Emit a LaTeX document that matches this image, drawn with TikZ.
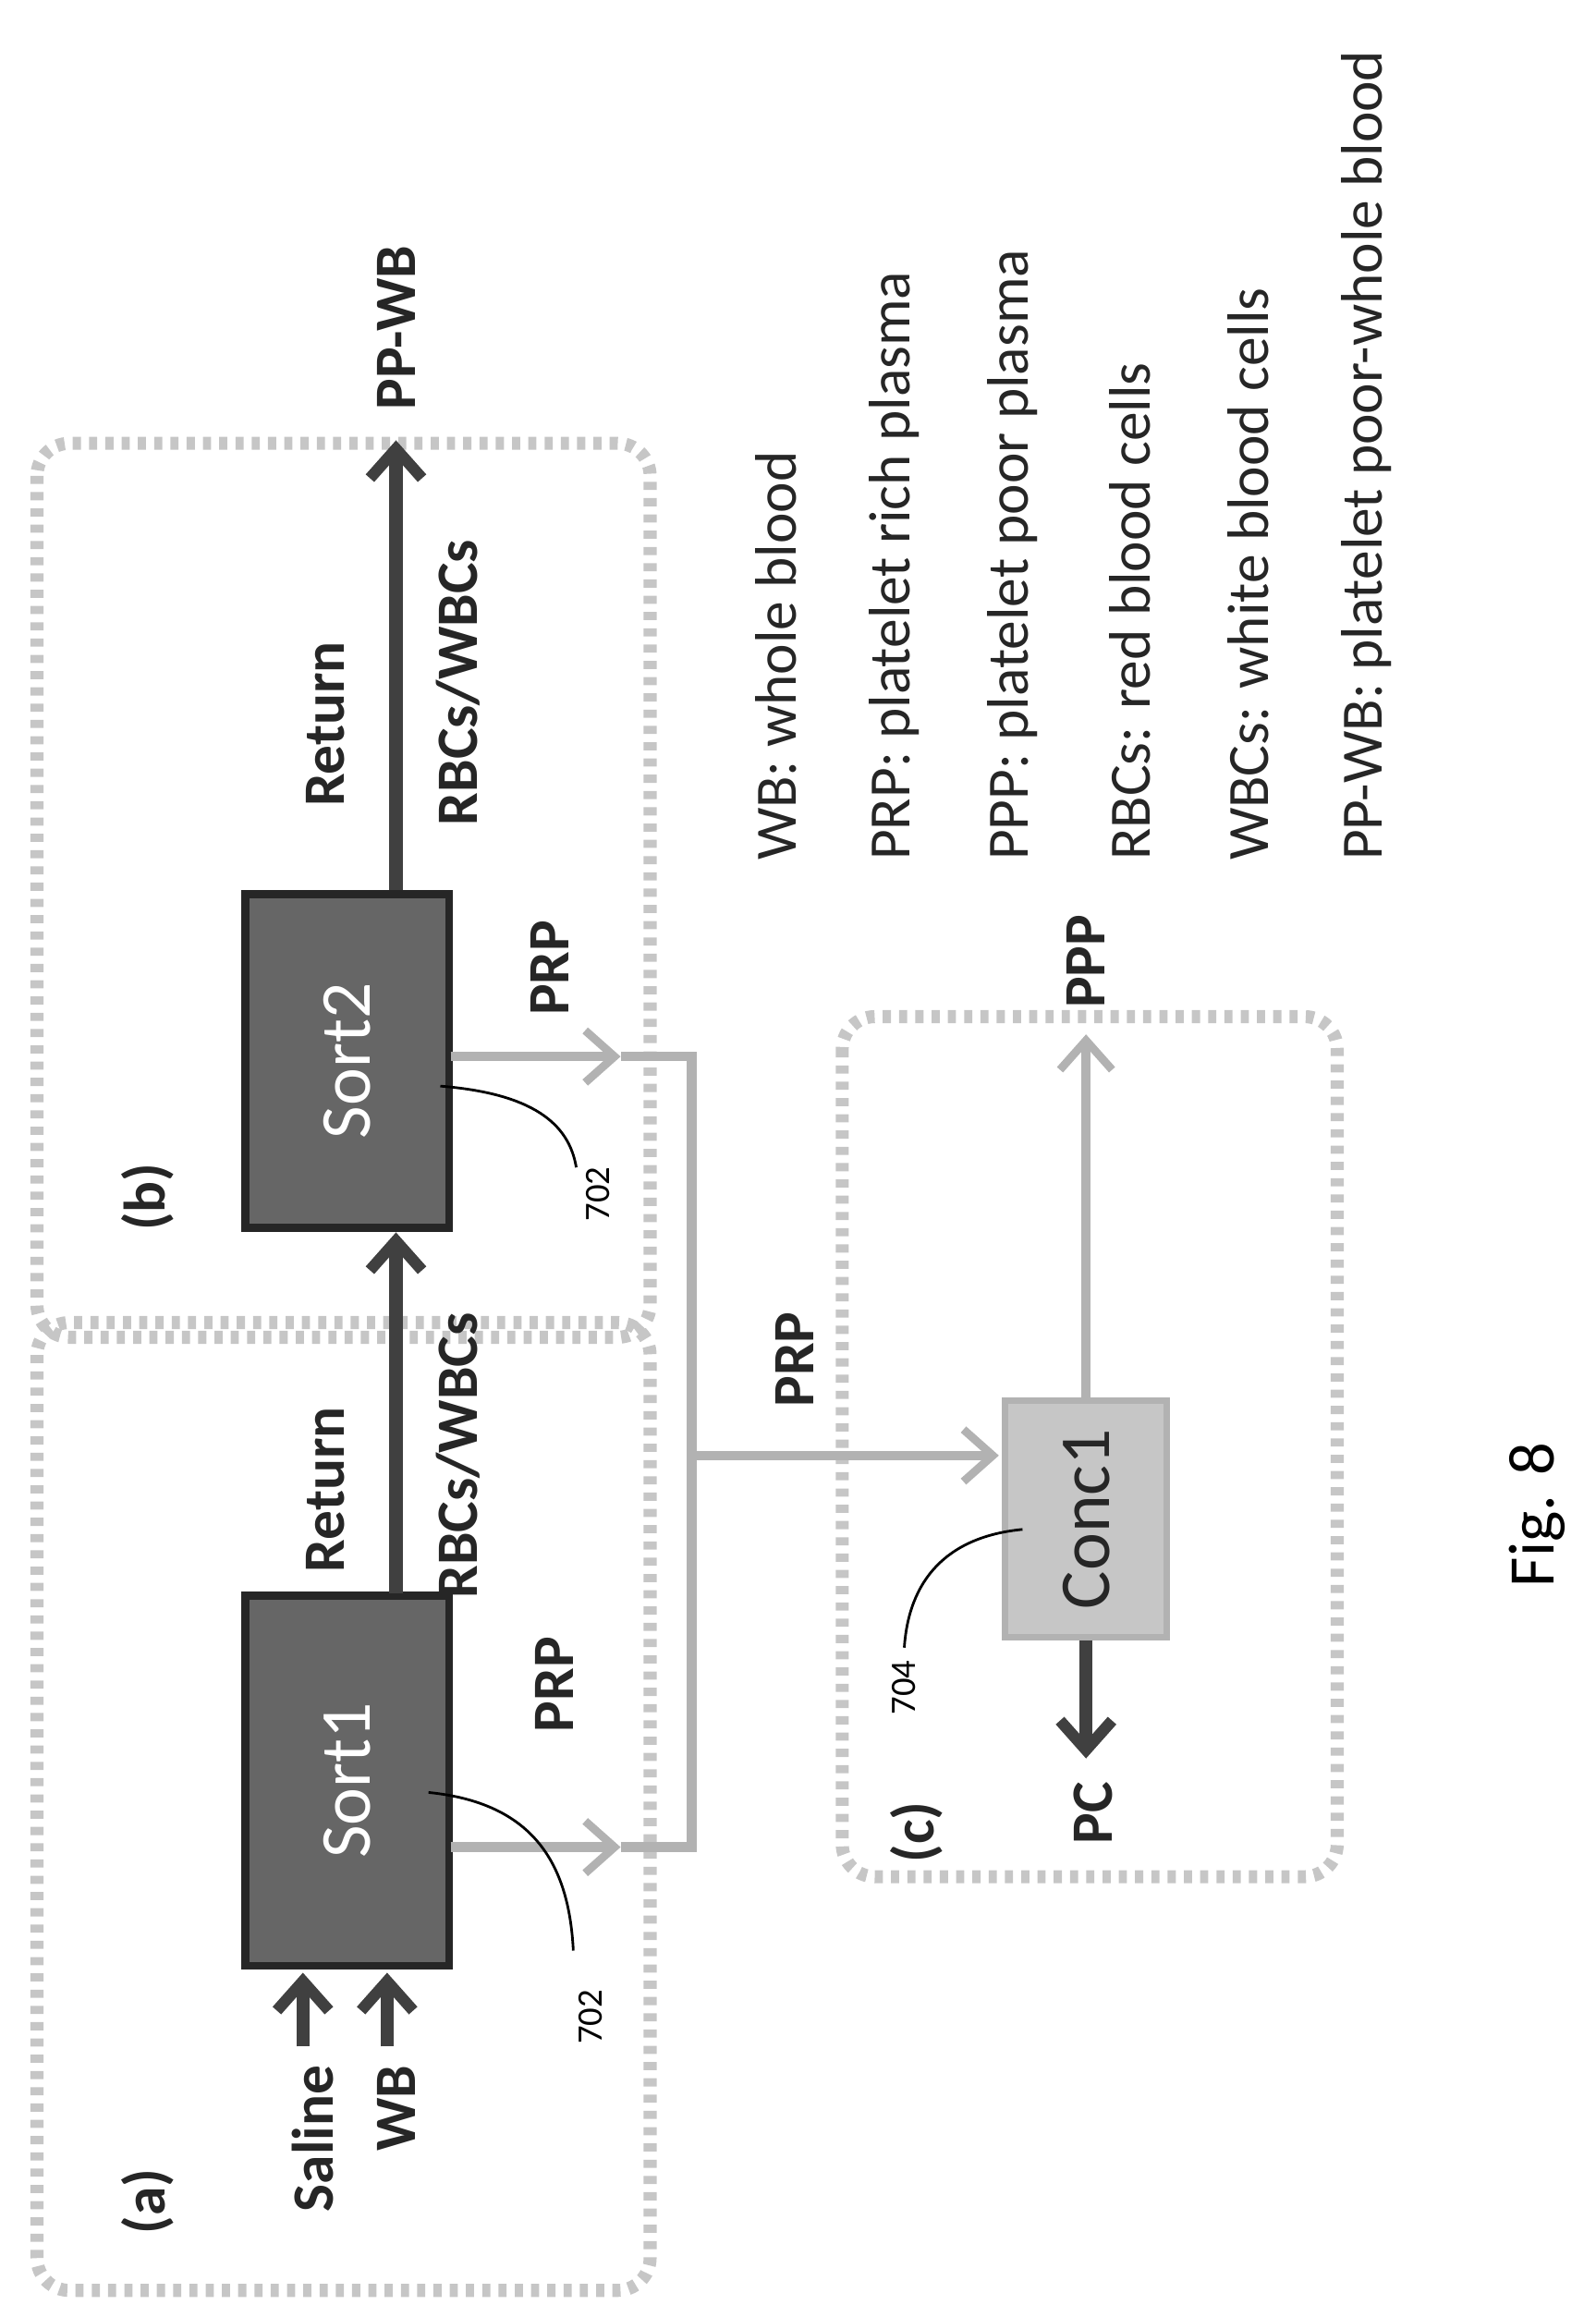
\documentclass[tikz,border=0pt]{standalone}
\usepackage{fontspec}
\setmainfont{Carlito}
\usetikzlibrary{arrows.meta}
\begin{document}
\begin{tikzpicture}[x=0.01596cm,y=-0.01596cm,
  frame/.style={draw=gray!45,line width=4pt,dash pattern=on 2.5pt off 2.5pt,rounded corners=10pt},
  sortbox/.style={draw=black!85,line width=2.5pt,fill=black!60,text=white,rotate=90,minimum height=2.2cm,font=\fontsize{22}{24}\selectfont},
  concbox/.style={draw=gray!60,line width=2pt,fill=gray!45,text=black!85,rotate=90,minimum height=1.75cm,minimum width=2.55cm,font=\fontsize{22}{24}\selectfont},
  dark/.style={draw=black!75,line width=4pt,-{Straight Barb[length=9pt,width=16pt,line width=3.5pt]}},
  light/.style={draw=gray!60,line width=3pt,-{Straight Barb[length=9pt,width=16pt,line width=2.5pt]}},
  lightline/.style={draw=gray!60,line width=3pt},
  lbl/.style={rotate=90,font=\bfseries\fontsize{18}{20}\selectfont,text=black!85},
  leg/.style={rotate=90,anchor=west,font=\fontsize{18}{20}\selectfont,text=black!85},
  lead/.style={draw=black,line width=0.8pt},
  num/.style={rotate=90,font=\fontsize{11}{13}\selectfont}]
\useasboundingbox (0,0) rectangle (1080,1568);
% frames
\draw[frame] (25,895) rectangle (440,1550);
\draw[frame] (25,300) rectangle (440,905);
\draw[frame] (570,688) rectangle (905,1270);
\node[lbl] (la) at (100,1490) {(a)};
\node[lbl] (lb) at (100,810) {(b)};
\node[lbl] (lc) at (620,1240) {(c)};
% boxes
\node[sortbox,minimum width=4.0cm] (s1) at (235,1205) {Sort1};
\node[sortbox,minimum width=3.6cm] (s2) at (235,718) {Sort2};
\node[concbox] (c1) at (735,1028) {Conc1};
% inputs
\coordinate (salin) at (205,1385);
\coordinate (wbin) at (262,1385);
\coordinate (s1a) at (205,1335);
\coordinate (s1b) at (262,1335);
\draw[dark] (salin) -- (s1a);
\draw[dark] (wbin) -- (s1b);
\node[lbl,anchor=east] (tsal) at (212,1390) {Saline};
\node[lbl,anchor=east] (twb) at (268,1390) {WB};
% return
\coordinate (s1t) at (268,1078);
\coordinate (s2b) at (268,834);
\coordinate (s2t) at (268,602);
\coordinate (ppwb) at (268,298);
\draw[dark] (s1t) -- (s2b);
\draw[dark] (s2t) -- (ppwb);
\node[lbl,anchor=west] (tpp) at (268,285) {PP-WB};
\node[lbl] (r1) at (220,1008) {Return};
\node[lbl] (w1) at (310,985) {RBCs/WBCs};
\node[lbl] (r2) at (220,490) {Return};
\node[lbl] (w2) at (310,462) {RBCs/WBCs};
% PRP
\coordinate (p1s) at (305,1250);
\coordinate (p1e) at (420,1250);
\coordinate (p2s) at (305,715);
\coordinate (p2e) at (420,715);
\draw[light] (p1s) -- (p1e);
\draw[light] (p2s) -- (p2e);
\draw[lightline] (p1e) -- (468,1250) -- (468,715) -- (p2e);
\coordinate (bus) at (468,985);
\coordinate (c1l) at (676,985);
\draw[light] (bus) -- (c1l);
\node[lbl] (pr1) at (375,1140) {PRP};
\node[lbl] (pr2) at (372,655) {PRP};
\node[lbl] (pr3) at (538,920) {PRP};
% conc outputs
\coordinate (c1t) at (735,946);
\coordinate (c1b) at (735,1110);
\coordinate (ppp) at (735,700);
\coordinate (pc) at (735,1190);
\draw[light] (c1t) -- (ppp);
\draw[dark] (c1b) -- (pc);
\node[lbl,anchor=west] (tppp) at (735,690) {PPP};
\node[lbl,anchor=east] (tpc) at (740,1198) {PC};
% leaders
\coordinate (l1) at (290,1213);
\draw[lead] (l1) .. controls (360,1220) and (385,1260) .. (388,1320);
\node[num] (n1) at (400,1365) {702};
\coordinate (l2) at (298,735);
\draw[lead] (l2) .. controls (360,740) and (385,760) .. (390,790);
\node[num] (n2) at (405,808) {702};
\coordinate (l3) at (692,1035);
\draw[lead] (l3) .. controls (640,1040) and (615,1070) .. (612,1115);
\node[num] (n3) at (612,1142) {704};
% legend
\node[leg] (g1) at (525,590) {WB: whole blood};
\node[leg] (g2) at (605,590) {PRP: platelet rich plasma};
\node[leg] (g3) at (685,590) {PPP: platelet poor plasma};
\node[leg] (g4) at (765,590) {RBCs: red blood cells};
\node[leg] (g5) at (845,590) {WBCs: white blood cells};
\node[leg] (g6) at (925,590) {PP-WB: platelet poor-whole blood};
\node[rotate=90,font=\fontsize{20}{22}\selectfont] (fig) at (1040,1025) {Fig. 8};
\end{tikzpicture}
\end{document}
